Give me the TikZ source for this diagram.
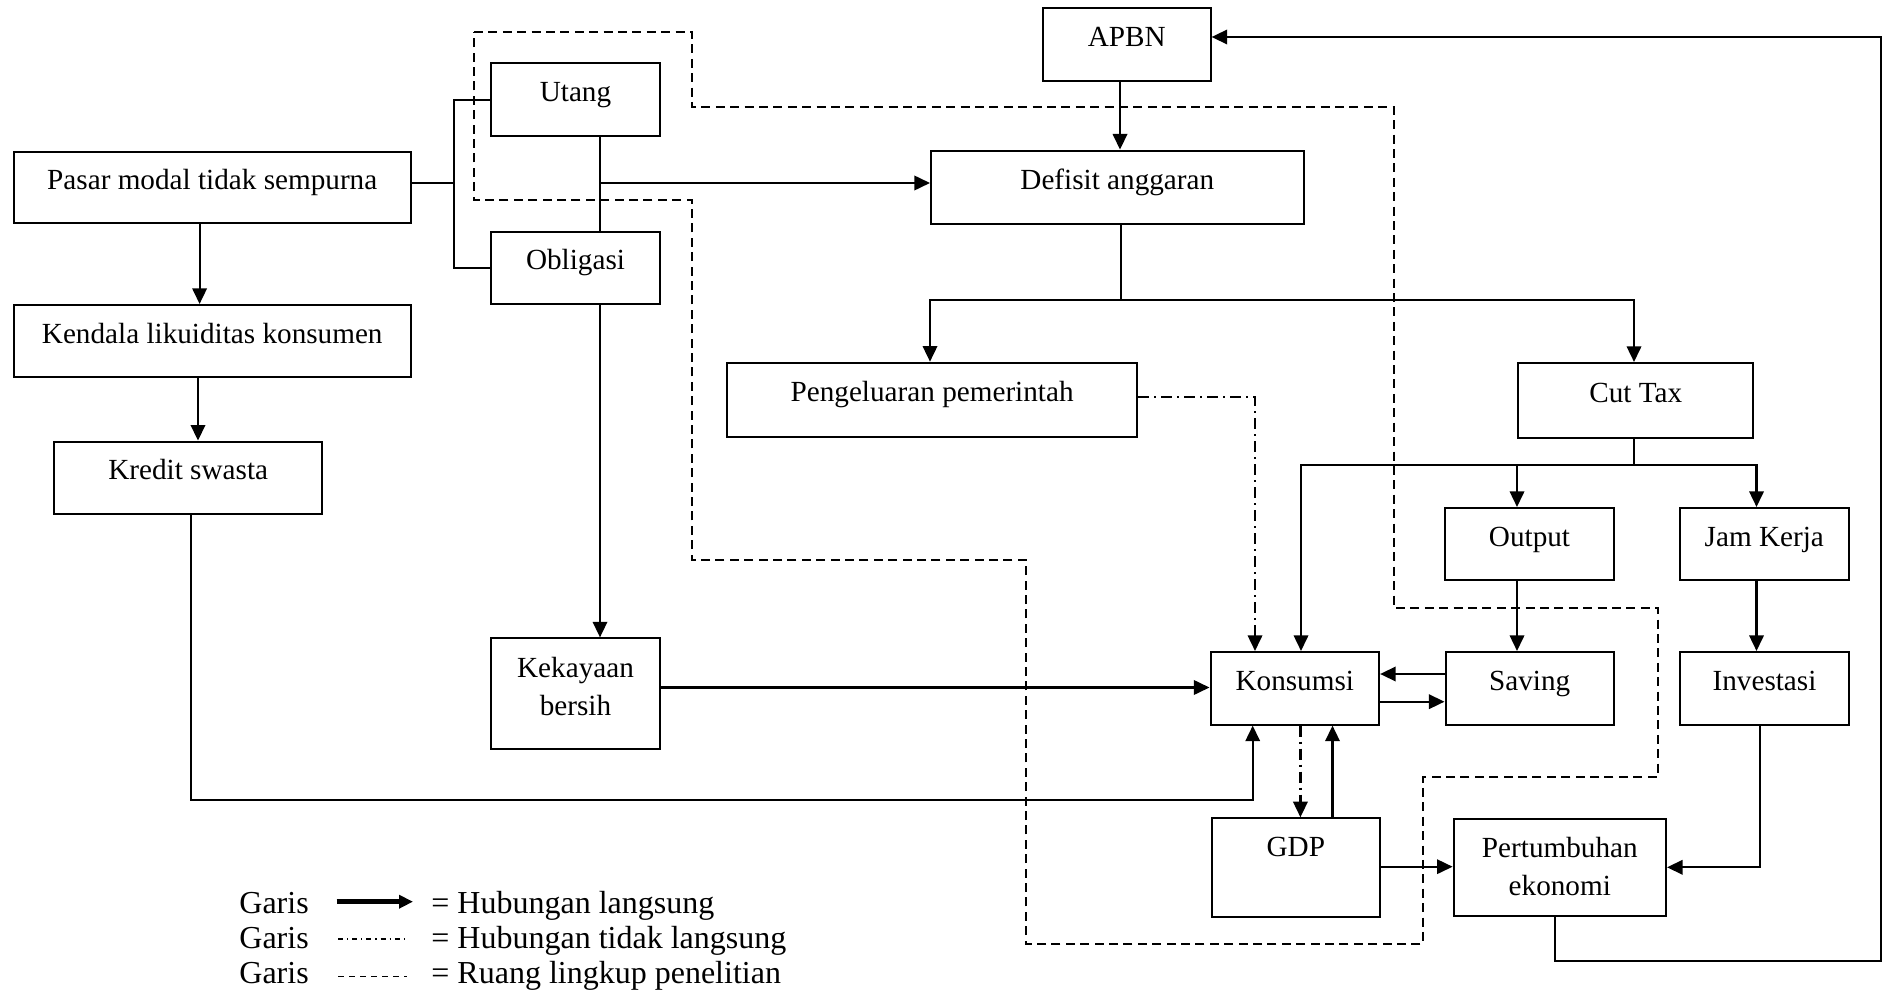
\documentclass[tikz,border=0pt]{standalone}
\usepackage{fontspec}
\setmainfont{Liberation Serif}
\usetikzlibrary{arrows.meta,calc}
\begin{document}
\begin{tikzpicture}[x=0.5pt,y=-0.5pt,
  box/.style={draw, line width=1pt, inner sep=0pt, font=\fontsize{14.6}{19}\selectfont},
  one/.style={box, text height=9pt, text depth=7pt},
  ln/.style={line width=1.1pt},
  arr/.style={ln, -{Triangle[length=7.8pt,width=7.2pt]}},
  dd/.style={dash pattern=on 5.5pt off 2.5pt on 1pt off 2.5pt},
  scopeline/.style={line width=1pt, dash pattern=on 4.5pt off 2.7pt},
  leg/.style={inner sep=0pt, font=\fontsize{16}{19}\selectfont}]
\useasboundingbox[fill=white] (0,0) rectangle (1883,994);

% boxes
\node[one, minimum width=198.5pt, minimum height=35.8pt] (pasar) at (212.25,187.5) {Pasar modal tidak sempurna};
\node[one, minimum width=198.5pt, minimum height=36.2pt] (kendala) at (212.25,341.2) {Kendala likuiditas konsumen};
\node[one, minimum width=134.2pt, minimum height=36.2pt] (kredit) at (188.2,477.8) {Kredit swasta};
\node[one, minimum width=84.5pt, minimum height=36.3pt] (utang) at (575.5,99.7) {Utang};
\node[one, minimum width=84.5pt, minimum height=36.2pt] (obligasi) at (575.5,267.8) {Obligasi};
\node[box, text height=2pt, text depth=18.5pt, minimum width=84.5pt, minimum height=55.3pt] (kekayaan) at (575.5,693.7) {\begin{tabular}[t]{@{}c@{}}Kekayaan\\bersih\end{tabular}};
\node[one, minimum width=83.8pt, minimum height=36.2pt] (apbn) at (1126.8,44.5) {APBN};
\node[one, minimum width=186.3pt, minimum height=36.7pt] (defisit) at (1117.3,187.3) {Defisit anggaran};
\node[one, minimum width=205.3pt, minimum height=37pt] (pengeluaran) at (932.1,399.7) {Pengeluaran pemerintah};
\node[one, minimum width=117.7pt, minimum height=37.4pt] (cuttax) at (1635.7,400.4) {Cut Tax};
\node[one, minimum width=84.5pt, minimum height=36pt] (output) at (1529.5,544) {Output};
\node[one, minimum width=84.3pt, minimum height=36pt] (jam) at (1764.3,544) {Jam Kerja};
\node[one, minimum width=84.3pt, minimum height=36.3pt] (konsumsi) at (1294.8,688.3) {Konsumsi};
\node[one, minimum width=84.2pt, minimum height=36.3pt] (saving) at (1529.7,688.3) {Saving};
\node[one, minimum width=84.5pt, minimum height=36.5pt] (investasi) at (1764.5,688.5) {Investasi};
\node[box, text height=9pt, text depth=19.8pt, minimum width=84.2pt, minimum height=49.2pt] (gdp) at (1295.8,867.5) {GDP};
\node[box, text height=2pt, text depth=11.8pt, minimum width=106.2pt, minimum height=48.7pt] (pertumbuhan) at (1559.8,867.3) {\begin{tabular}[t]{@{}c@{}}Pertumbuhan\\ekonomi\end{tabular}};

% scope of research (dashed)
\draw[scopeline] (474,32) -- (692,32) -- (692,107) -- (1393.7,107) -- (1393.7,607.6)
  -- (1657.6,607.6) -- (1657.6,777) -- (1422.7,777) -- (1422.7,944) -- (1026,944)
  -- (1026,560) -- (692,560) -- (692,200) -- (474,200) -- cycle;

% left part
\coordinate (brk) at (454,183);
\draw[ln] (pasar.east |- brk) -- (brk);
\draw[ln] (utang.west) -- (utang.west -| brk) -- (obligasi.west -| brk) -- (obligasi.west);
\coordinate (uo) at (600,183);
\draw[ln] (utang.south -| uo) -- (obligasi.north -| uo);
\draw[arr] (uo) -- (defisit.west |- uo);
\draw[arr] (obligasi.south -| uo) -- (kekayaan.north -| uo);
\draw[arr] (kekayaan.east |- 0,687.5) -- (konsumsi.west |- 0,687.5);
\draw[arr] (pasar.south -| 199.6,0) -- (kendala.north -| 199.6,0);
\draw[arr] (kendala.south -| 198,0) -- (kredit.north -| 198,0);
\coordinate (kc) at (191,800);
\draw[arr] (kredit.south -| kc) -- (kc) -| (konsumsi.south -| 1252.7,0);

% top / middle
\draw[arr] (apbn.south -| 1120,0) -- (defisit.north -| 1120,0);
\coordinate (db) at (1121,300);
\draw[ln] (defisit.south -| db) -- (db);
\draw[arr] (db) -| (pengeluaran.north -| 930,0);
\draw[arr] (db) -| (cuttax.north -| 1634,0);
\draw[arr, dd] (pengeluaran.east |- 0,396.7) -| (konsumsi.north -| 1255,0);

% cut tax branch
\coordinate (cb) at (1634,465);
\draw[ln] (cuttax.south -| cb) -- (cb);
\draw[arr] (cb) -| (konsumsi.north -| 1301,0);
\draw[arr] (cb) -| (output.north -| 1517,0);
\draw[arr] (cb) -| (jam.north -| 1756.5,0);
\draw[arr] (output.south -| 1517,0) -- (saving.north -| 1517,0);
\draw[arr] (jam.south -| 1756.5,0) -- (investasi.north -| 1756.5,0);
\draw[arr] (saving.west |- 0,674) -- (konsumsi.east |- 0,674);
\draw[arr] (konsumsi.east |- 0,701.7) -- (saving.west |- 0,701.7);
\draw[arr, dd] (konsumsi.south -| 1300.4,0) -- (gdp.north -| 1300.4,0);
\draw[arr] (gdp.north -| 1332.5,0) -- (konsumsi.south -| 1332.5,0);
\draw[arr] (gdp.east |- 0,866.7) -- (pertumbuhan.west |- 0,866.7);
\draw[arr] (investasi.south -| 1760,0) |- (pertumbuhan.east);
\coordinate (pa) at (1555,960.6);
\coordinate (pb) at (1881.3,960.6);
\draw[arr] (pertumbuhan.south -| pa) -- (pa) -- (pb) |- (apbn.east |- 0,37);

% legend
\node[leg, anchor=base west] (g1) at (239,913.5) {Garis};
\node[leg, anchor=base west] (g2) at (239,948) {Garis};
\node[leg, anchor=base west] (g3) at (239,983.5) {Garis};
\node[leg, anchor=base west] (t1) at (431,913.5) {= Hubungan langsung};
\node[leg, anchor=base west] (t2) at (431,948) {= Hubungan tidak langsung};
\node[leg, anchor=base west] (t3) at (431,983.5) {= Ruang lingkup penelitian};
\coordinate (a1) at (336.7,901.7); \coordinate (b1) at (413,901.7);
\coordinate (a2) at (338,939);   \coordinate (b2) at (406.7,939);
\coordinate (a3) at (338,976.7); \coordinate (b3) at (406.7,976.7);
\draw[line width=2.3pt, -{Triangle[length=7pt,width=6.5pt]}] (a1) -- (b1);
\draw[line width=0.6pt, dash pattern=on 2.5pt off 2pt on 0.6pt off 2pt] (a2) -- (b2);
\draw[line width=0.6pt, dash pattern=on 3pt off 2.5pt] (a3) -- (b3);
\end{tikzpicture}
\end{document}
